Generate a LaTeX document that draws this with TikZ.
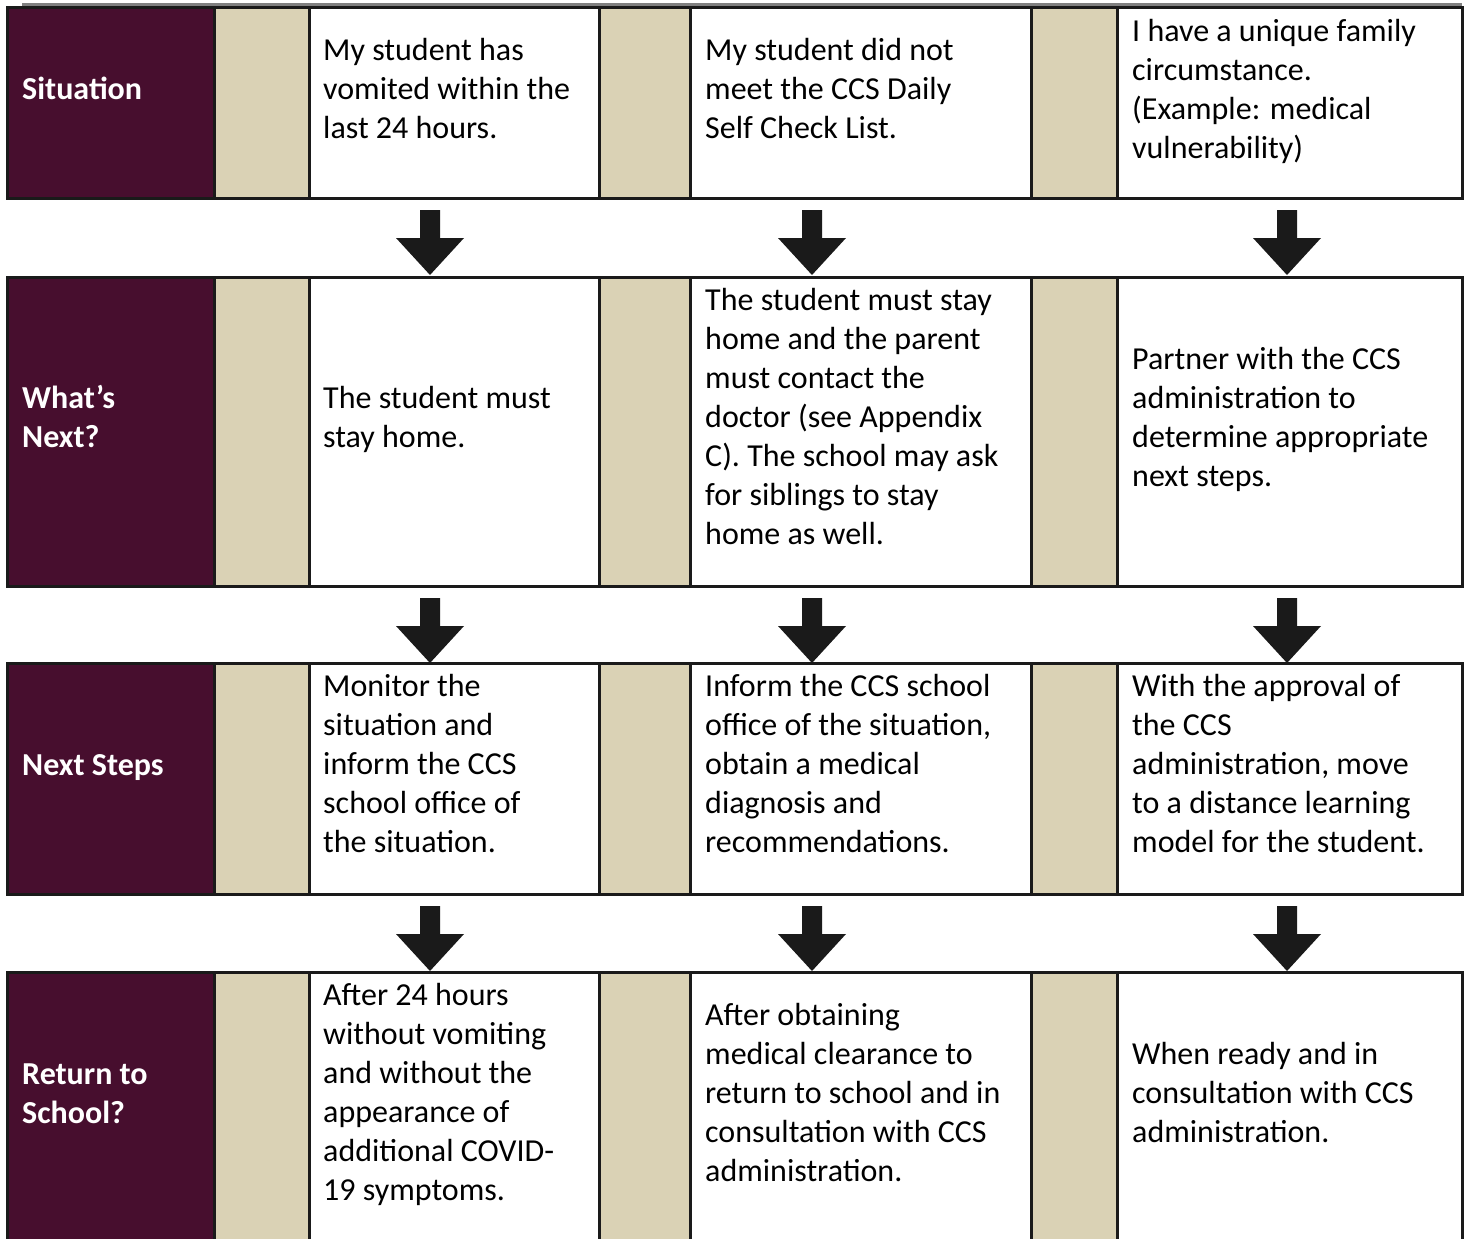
\documentclass[tikz,border=0pt]{standalone}
\usepackage{fontspec}
\setmainfont{Carlito}
\definecolor{maroon}{RGB}{71,14,46}
\definecolor{tan}{RGB}{218,210,181}
\definecolor{rule}{RGB}{26,26,26}
\tikzset{
  bodytext/.style={anchor=base west,align=left,inner sep=0pt,font=\fontsize{32}{39}\selectfont},
  headtext/.style={anchor=base west,align=left,inner sep=0pt,text=white,font=\bfseries\fontsize{32}{39}\selectfont},
  border/.style={draw=rule,line width=3pt}
}
\begin{document}
\begin{tikzpicture}[x=1pt,y=-1pt]
\useasboundingbox (0,0) rectangle (1468,1239);

% Top rule
\draw[black!50,line width=3pt] (22,5) -- (1462,5);

% Rows of cells
\foreach \top/\bot in {8/198, 277/586, 663/894, 972/1260} {
  \fill[maroon] (7,\top) rectangle (214,\bot);
  \fill[tan] (214,\top) rectangle (309,\bot);
  \fill[tan] (599,\top) rectangle (690,\bot);
  \fill[tan] (1031,\top) rectangle (1117,\bot);
  \draw[border] (7,\top) rectangle (1462,\bot);
  \foreach \x in {214,309,599,690,1031,1117}
    \draw[border] (\x,\top) -- (\x,\bot);
}

% Block arrows between rows
\foreach \x in {430,812,1287}
  \foreach \y in {210,598,906}
    \fill[rule] (\x-10,\y) -- (\x+10,\y) -- (\x+10,\y+28) -- (\x+34,\y+28)
      -- (\x,\y+65) -- (\x-34,\y+28) -- (\x-10,\y+28) -- cycle;

% Row headings (base = baseline of the last line)
\node[headtext] (sit) at (22,99.5) {Situation};
\node[headtext] (next) at (22,447) {What’s\\Next?};
\node[headtext] (steps) at (22,775.5) {Next Steps};
\node[headtext] (back) at (22,1123) {Return to\\School?};

% Situation
\node[bodytext] (sitA) at (323,138.5) {My student has\\vomited within the\\last 24 hours.};
\node[bodytext] (sitB) at (705,138.5) {My student did not\\meet the CCS Daily\\Self Check List.};
\node[bodytext] (sitC) at (1132,158.5) {I have a unique family\\circumstance.\\(Example: medical\\vulnerability)};

% What's next
\node[bodytext] (nextA) at (323,447) {The student must\\stay home.};
\node[bodytext] (nextB) at (705,544.5) {The student must stay\\home and the parent\\must contact the\\doctor (see Appendix\\C). The school may ask\\for siblings to stay\\home as well.};
\node[bodytext] (nextC) at (1132,486) {Partner with the CCS\\administration to\\determine appropriate\\next steps.};

% Next steps
\node[bodytext] (stepsA) at (323,852.5) {Monitor the\\situation and\\inform the CCS\\school office of\\the situation.};
\node[bodytext] (stepsB) at (705,852.5) {Inform the CCS school\\office of the situation,\\obtain a medical\\diagnosis and\\recommendations.};
\node[bodytext] (stepsC) at (1132,852.5) {With the approval of\\the CCS\\administration, move\\to a distance learning\\model for the student.};

% Return to school
\node[bodytext] (backA) at (323,1200.5) {After 24 hours\\without vomiting\\and without the\\appearance of\\additional COVID-\\19 symptoms.};
\node[bodytext] (backB) at (705,1181) {After obtaining\\medical clearance to\\return to school and in\\consultation with CCS\\administration.};
\node[bodytext] (backC) at (1132,1142) {When ready and in\\consultation with CCS\\administration.};
\end{tikzpicture}
\end{document}
